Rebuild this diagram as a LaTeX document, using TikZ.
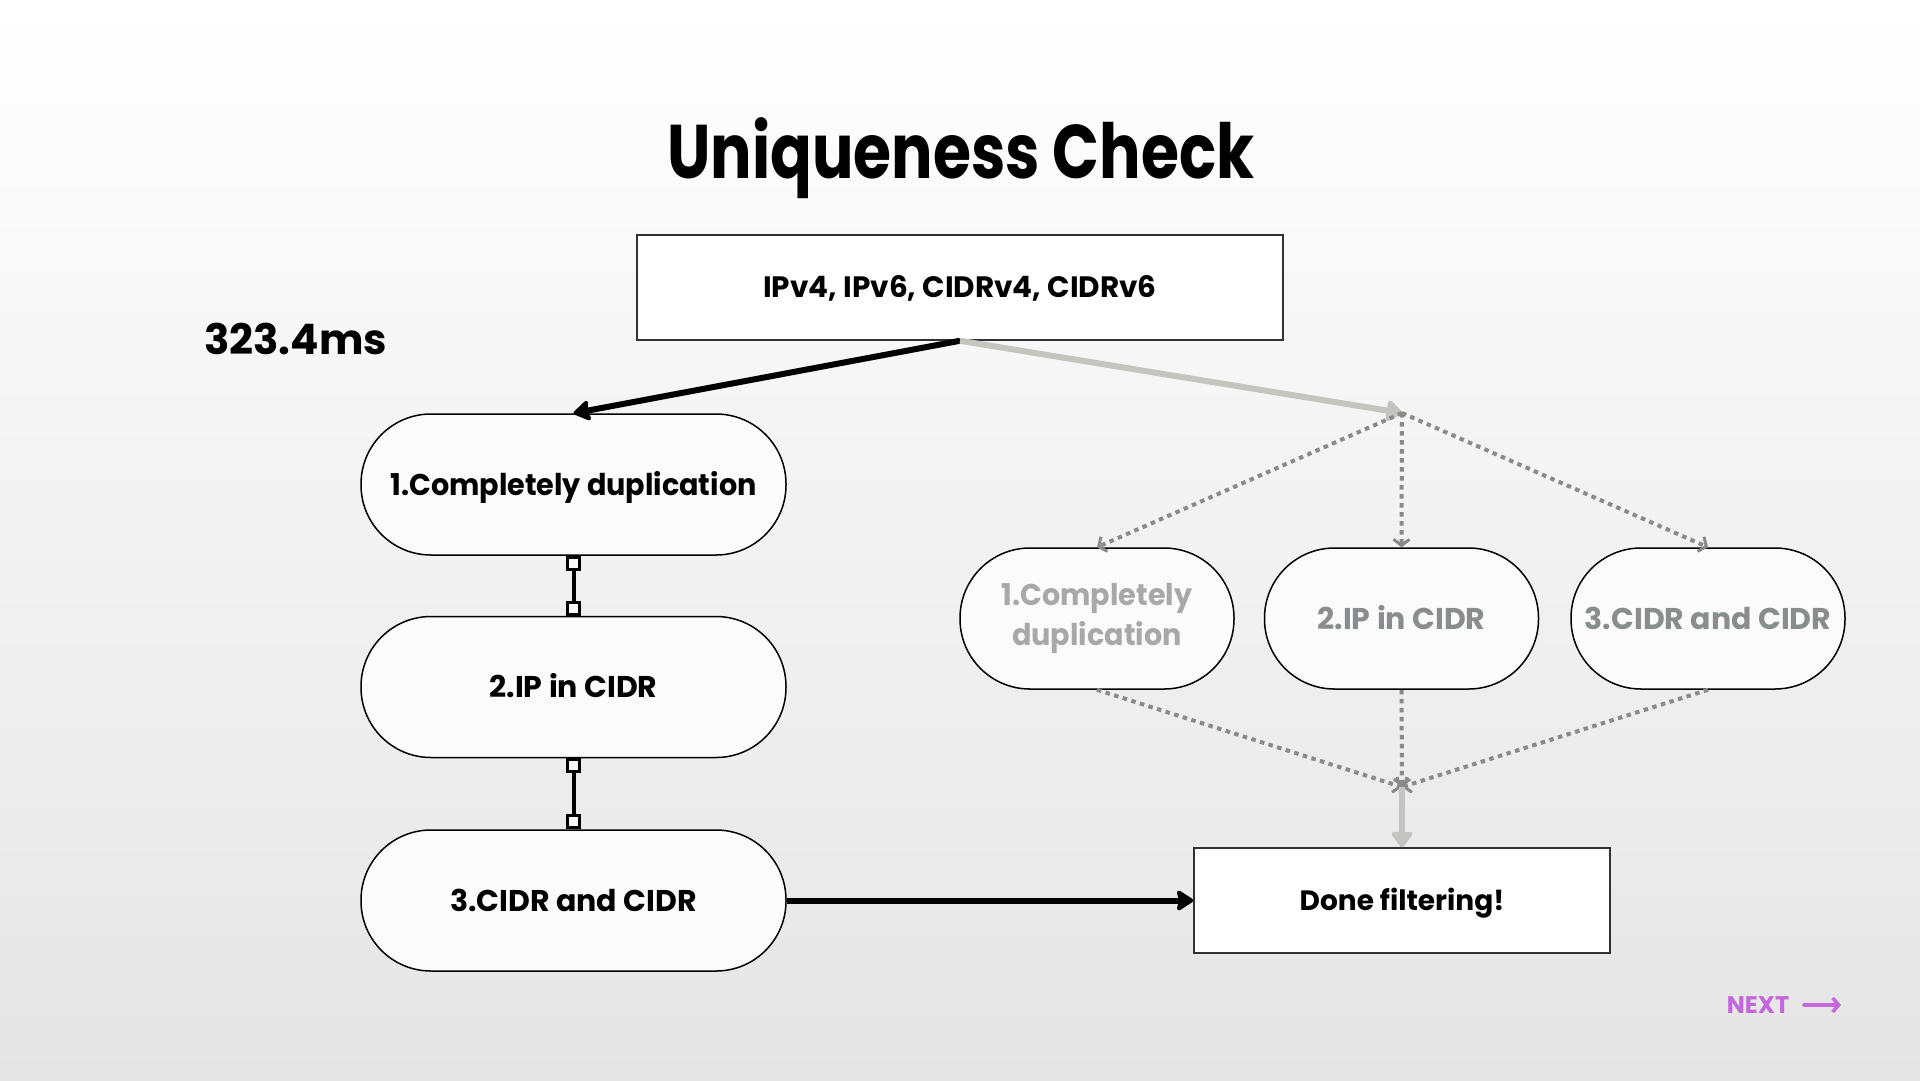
\documentclass[tikz,border=0pt]{standalone}
\usepackage{fontspec}
\setmainfont{Poppins}
\newfontfamily\titlefont{Poppins}[FakeStretch=0.81]
\newfontfamily\narrowfont{Poppins}[FakeStretch=0.955]
\usetikzlibrary{arrows.meta}
\definecolor{bgtop}{RGB}{255,255,255}
\definecolor{bgbot}{RGB}{229,229,229}
\definecolor{nodefill}{RGB}{251,251,251}
\definecolor{gline}{RGB}{196,196,192}
\definecolor{gdot}{RGB}{138,138,138}
\definecolor{gtext}{RGB}{138,141,141}
\definecolor{gtextl}{RGB}{168,168,168}
\definecolor{boxline}{RGB}{50,50,50}
\definecolor{nextc}{RGB}{196,102,220}
\begin{document}
\begin{tikzpicture}[x=1pt,y=-1pt,
  pill/.style={draw=black, line width=1.5pt, fill=nodefill, rounded corners=70pt,
    minimum height=141pt, inner sep=0pt, align=center,
    font=\fontsize{30}{40}\selectfont\bfseries},
  leftpill/.style={pill, minimum width=425pt, text height=21pt, text depth=0pt},
  rightpill/.style={pill, minimum width=274pt},
  sqbox/.style={draw=boxline, line width=1.5pt, fill=white, inner sep=0pt,
    font=\fontsize{28}{34}\selectfont\bfseries, text height=20pt, text depth=0pt},
  blackarrow/.style={draw=black, line width=6pt, -{Stealth[length=19pt,width=24pt,inset=3pt,round]}},
  grayarrow/.style={draw=gline, line width=6pt, -{Triangle[length=17pt,width=24pt,round]}},
  dotarrow/.style={draw=gdot, line width=4pt, dash pattern=on 4.5pt off 4.5pt,
    -{Straight Barb[length=6pt,width=16pt,line width=3pt]}},
  sqline/.style={draw=black, line width=4pt, {Square[length=15pt,width=15pt,line width=3pt,fill=white]}-{Square[length=15pt,width=15pt,line width=3pt,fill=white]}},
]
\useasboundingbox (0,0) rectangle (1920,1080);
\shade[top color=bgtop, bottom color=bgbot] (0,0) rectangle (1920,1080);

\node[font=\titlefont\fontsize{76}{80}\selectfont\bfseries, text height=53pt, text depth=0pt, inner sep=0pt]
  (title) at (961,151.5) {Uniqueness Check};
\node[font=\fontsize{42}{46}\selectfont\bfseries, text height=30pt, text depth=0pt, inner sep=0pt]
  (time) at (295.5,339) {323.4ms};

\node[sqbox, minimum width=646pt, minimum height=105pt, font=\fontsize{29.5}{34}\selectfont\bfseries] (top) at (960,287.5) {IPv4, IPv6, CIDRv4, CIDRv6};

\node[leftpill, font=\narrowfont\fontsize{30}{40}\selectfont\bfseries] (n1) at (573.5,484.5) {1.Completely duplication};
\node[leftpill] (n2) at (573.5,687) {2.IP in CIDR};
\node[leftpill] (n3) at (573.5,900.5) {3.CIDR and CIDR};

\node[rightpill, text=gtextl, font=\narrowfont\fontsize{30}{40}\selectfont\bfseries] (r1) at (1097,618.5) {1.Completely\\duplication};
\node[rightpill, text=gtext, text height=21pt, text depth=0pt] (r2) at (1401.5,618.5) {2.IP in CIDR};
\node[rightpill, text=gtext, text height=21pt, text depth=0pt] (r3) at (1708,618.5) {3.CIDR and CIDR};

\node[sqbox, minimum width=416pt, minimum height=105pt] (done) at (1402,900.5) {Done filtering!};

\coordinate (split) at (1402,413);
\coordinate (merge) at (1402,787);

\draw[blackarrow] (top.south) -- (n1.north);
\draw[grayarrow] (top.south) -- (split);
\draw[dotarrow] (split) -- (r1.north);
\draw[dotarrow] (split) -- (r2.north);
\draw[dotarrow] (split) -- (r3.north);
\draw[dotarrow] (r1.south) -- (merge);
\draw[dotarrow] (r2.south) -- (merge);
\draw[dotarrow] (r3.south) -- (merge);
\draw[grayarrow] (merge) -- (done.north);

\draw[sqline] (n1.south) -- (n2.north);
\draw[sqline] (n2.south) -- (n3.north);
\draw[blackarrow] (n3.east) -- (done.west);

\node[font=\fontsize{24}{28}\selectfont\bfseries, text=nextc, text height=17pt, text depth=0pt, inner sep=0pt]
  (next) at (1758,1005) {NEXT};
\coordinate (na) at (1804,1005);
\coordinate (nb) at (1841,1005);
\draw[draw=nextc, line width=3.5pt, line cap=round, -{Straight Barb[length=6pt,width=14pt,line width=3.5pt]}] (na) -- (nb);
\end{tikzpicture}
\end{document}
